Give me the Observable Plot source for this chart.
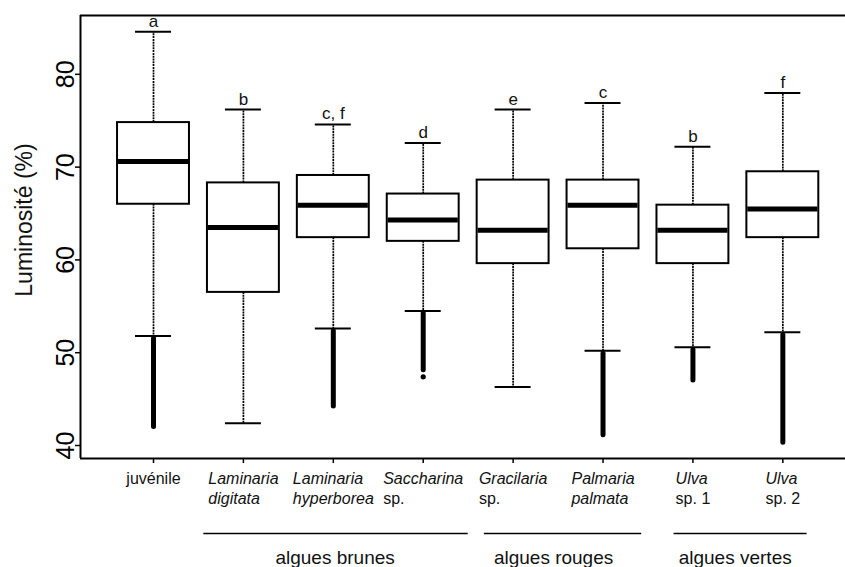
<!DOCTYPE html>
<html><head><meta charset="utf-8">
<script src="https://cdn.jsdelivr.net/npm/d3@7"></script>
<script src="https://cdn.jsdelivr.net/npm/@observablehq/plot@0.6"></script>
<style>html,body{margin:0;padding:0;background:#fff;overflow:hidden}</style>
</head><body><div id="chart"></div>
<script>
// ---- data ----
const categories = ["juvénile","Laminaria digitata","Laminaria hyperborea","Saccharina sp.","Gracilaria sp.","Palmaria palmata","Ulva sp. 1","Ulva sp. 2"];
const labelLine1 = ["juvénile","Laminaria","Laminaria","Saccharina","Gracilaria","Palmaria","Ulva","Ulva"];
const labelLine1Italic = [false,true,true,true,true,true,true,true];
const labelLine2 = ["","digitata","hyperborea","sp.","sp.","palmata","sp. 1","sp. 2"];
const labelLine2Italic = [false,true,true,false,false,true,false,false];
const letters = ["a","b","c, f","d","e","c","b","f"];
const whiskerHigh = [84.6, 76.2, 74.6, 72.6, 76.2, 76.9, 72.2, 78.0];
const q3 =          [74.8, 68.3, 69.1, 67.1, 68.6, 68.6, 65.9, 69.5];
const median =      [70.6, 63.5, 65.9, 64.3, 63.2, 65.9, 63.2, 65.5];
const q1 =          [66.0, 56.5, 62.4, 62.0, 59.6, 61.2, 59.6, 62.4];
const whiskerLow =  [51.8, 42.4, 52.6, 54.5, 46.3, 50.2, 50.6, 52.2];
const outlierMax =  [51.5, null, 52.3, 54.2, null, 49.9, 50.3, 51.9];
const outlierMin =  [42.0, null, 44.2, 48.1, null, 41.1, 47.0, 40.3];
const isolatedOutlierCat = [3];
const isolatedOutlierVal = [47.4];
const groupNames = ["algues brunes","algues rouges","algues vertes"];
const groupStart = [0.56, 3.68, 5.79];   // in category-index units
const groupEnd   = [3.50, 5.43, 7.27];
const groupLabelAt = [2.02, 4.45, 6.47];
const yTicks = [40, 50, 60, 70, 80];
const yTitle = "Luminosité (%)";

// ---- tables ----
const boxes = categories.map((c, i) => ({
  i, cat: c, hi: whiskerHigh[i], q3: q3[i], med: median[i], q1: q1[i], lo: whiskerLow[i],
  omax: outlierMax[i], omin: outlierMin[i], letter: letters[i]
}));
const outl = boxes.filter(d => d.omin != null);
const isolated = isolatedOutlierCat.map((c, k) => ({i: c, v: isolatedOutlierVal[k]}));
const groups = groupNames.map((g, k) => ({name: g, x1: groupStart[k], x2: groupEnd[k], at: groupLabelAt[k]}));

const yMin = 38.6, yMax = 86.34;
const xMin = -0.812, xMax = 7.697;
const FONT = '"Liberation Sans", Arial, Helvetica, sans-serif';
const BW = 0.4, CW = 0.2;

// measure label blocks for left-aligned, centred two-line labels
const ctx = document.createElement("canvas").getContext("2d");
function tw(s, italic, size) {
  ctx.font = `${italic ? "italic " : ""}${size}px "Liberation Sans"`;
  return ctx.measureText(s).width;
}
const LS = 16;
const labelMarks = [];
categories.forEach((c, i) => {
  const w = Math.max(tw(labelLine1[i], labelLine1Italic[i], LS), labelLine2[i] ? tw(labelLine2[i], labelLine2Italic[i], LS) : 0);
  labelMarks.push(Plot.text([boxes[i]], {x: "i", y: yMin, text: () => labelLine1[i], textAnchor: "start", dx: -w / 2,
    dy: 25, lineAnchor: "bottom", fontSize: LS, fontStyle: labelLine1Italic[i] ? "italic" : "normal", fill: "#111"}));
  if (labelLine2[i]) labelMarks.push(Plot.text([boxes[i]], {x: "i", y: yMin, text: () => labelLine2[i], textAnchor: "start", dx: -w / 2,
    dy: 45, lineAnchor: "bottom", fontSize: LS, fontStyle: labelLine2Italic[i] ? "italic" : "normal", fill: "#111"}));
});

const chart = Plot.plot({
  width: 845, height: 567,
  marginLeft: 80, marginRight: 0, marginTop: 15, marginBottom: 109,
  x: {type: "linear", domain: [xMin, xMax]},
  y: {domain: [yMin, yMax]},
  style: {fontFamily: FONT, background: "white", color: "black"},
  marks: [
    // whiskers
    Plot.ruleX(boxes, {x: "i", y1: "q3", y2: "hi", stroke: "black", strokeWidth: 1.7, strokeDasharray: "2,0.8"}),
    Plot.ruleX(boxes, {x: "i", y1: "q1", y2: "lo", stroke: "black", strokeWidth: 1.7, strokeDasharray: "2,0.8"}),
    // outlier columns
    Plot.ruleX(outl, {x: "i", y1: "omax", y2: "omin", stroke: "black", strokeWidth: 5, strokeLinecap: "round"}),
    Plot.dot(isolated, {x: "i", y: "v", r: 2.6, fill: "black"}),
    // boxes
    Plot.rect(boxes, {x1: d => d.i - BW, x2: d => d.i + BW, y1: "q1", y2: "q3", fill: "white", stroke: "black", strokeWidth: 2}),
    Plot.ruleY(boxes, {y: "med", x1: d => d.i - BW + 0.01, x2: d => d.i + BW - 0.01, stroke: "black", strokeWidth: 5}),
    // caps
    Plot.ruleY(boxes, {y: "hi", x1: d => d.i - CW, x2: d => d.i + CW, stroke: "black", strokeWidth: 2}),
    Plot.ruleY(boxes, {y: "lo", x1: d => d.i - CW, x2: d => d.i + CW, stroke: "black", strokeWidth: 2}),
    // significance letters
    Plot.text(boxes, {x: "i", y: "hi", text: "letter", dy: -5, lineAnchor: "bottom", fontSize: 17, fill: "#111"}),
    // frame (no right edge)
    Plot.ruleY([yMin, yMax], {stroke: "black", strokeWidth: 2}),
    Plot.ruleX([xMin], {stroke: "black", strokeWidth: 2}),
    // axes
    Plot.axisY({ticks: yTicks, tickSize: 5, tickPadding: 2, tickRotate: -90, fontSize: 25, label: null, strokeWidth: 1.5}),
    Plot.axisX({ticks: categories.map((c, i) => i), tickFormat: () => "", tickSize: 5, label: null, strokeWidth: 1.5}),
    ...labelMarks,
    Plot.text([yTitle], {frameAnchor: "left", textAnchor: "middle", lineAnchor: "middle", dx: -56, dy: -17, rotate: -90, fontSize: 23, fill: "#111"}),
    // groups
    Plot.ruleY(groups, {y: yMin, x1: "x1", x2: "x2", dy: 75, stroke: "black", strokeWidth: 1.5}),
    Plot.text(groups, {x: "at", y: yMin, text: "name", dy: 105, lineAnchor: "bottom", fontSize: 19, fill: "#111"})
  ]
});
document.getElementById("chart").appendChild(chart);
</script>
</body></html>
